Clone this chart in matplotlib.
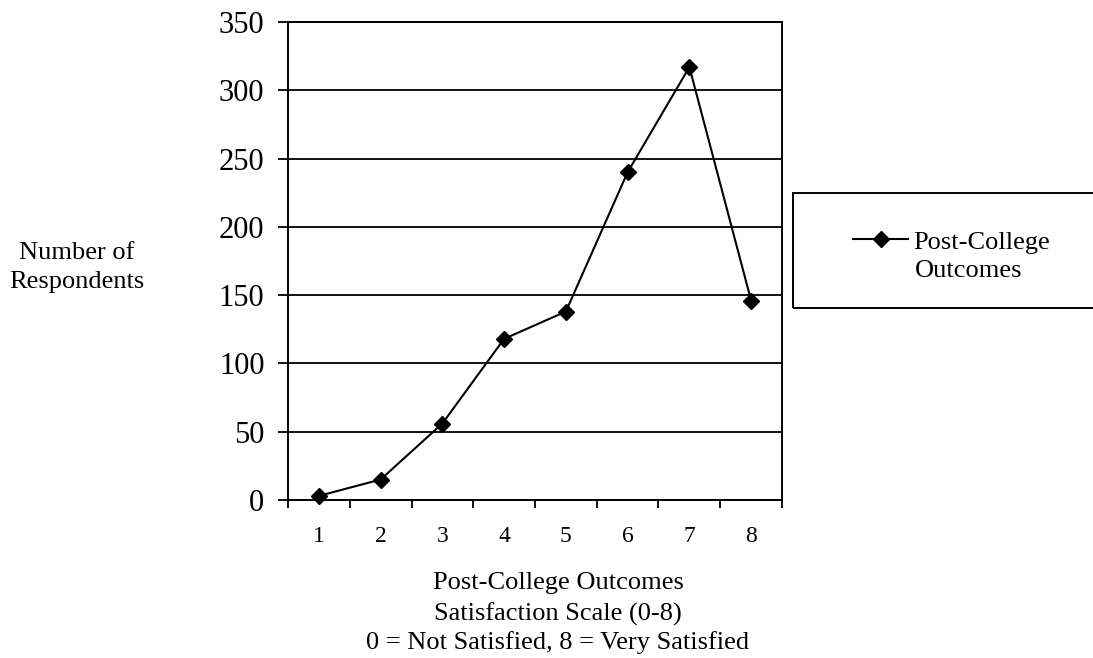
import numpy as np
import matplotlib
matplotlib.use("Agg")
import matplotlib.pyplot as plt
from matplotlib.patches import Rectangle

plt.rcParams['font.family'] = ['Liberation Serif', 'DejaVu Serif']

# scale points and respondent counts
scale = [1, 2, 3, 4, 5, 6, 7, 8]
respondents = [3, 15, 56, 118, 138, 240, 317, 146]
y_ticks = [0, 50, 100, 150, 200, 250, 300, 350]
series_name = "Post-College Outcomes"
x_title = ["Post-College Outcomes", "Satisfaction Scale (0-8)",
           "0 = Not Satisfied, 8 = Very Satisfied"]
y_title = ["Number of", "Respondents"]

W, H = 1093, 658
fig = plt.figure(figsize=(W / 100, H / 100), dpi=100)
ax = fig.add_axes([288 / W, 1 - 500 / H, (782 - 288) / W, (500 - 22) / H])

ax.plot(scale, respondents, color='black', lw=1.5, marker='D', ms=8,
        mfc='black', mec='black', zorder=3, clip_on=False)

ax.set_xlim(0.5, 8.5)
ax.set_ylim(0, 350)
ax.set_yticks(y_ticks)
ax.set_yticklabels([str(v) for v in y_ticks], fontsize=22)
ax.set_xticks(scale)
ax.set_xticklabels([str(v) for v in scale], fontsize=17)
ax.set_xticks(np.arange(0.5, 9, 1), minor=True)
ax.tick_params(axis='x', which='major', length=0, pad=19)
ax.tick_params(axis='x', which='minor', direction='out', length=6, width=1.3)
ax.tick_params(axis='y', direction='out', length=7, width=1.3, pad=10)

# horizontal gridlines
ax.grid(axis='y', color='black', lw=1.3)
ax.set_axisbelow(True)
for s in ax.spines.values():
    s.set_linewidth(1.4)
    s.set_color('black')

for txt, yp in zip(x_title, [583, 614, 643]):
    fig.text(558 / W, 1 - yp / H, txt, ha='center', va='center', fontsize=19)

for txt, yp in zip(y_title, [253, 282]):
    fig.text(77 / W, 1 - yp / H, txt, ha='center', va='center', fontsize=19)

# legend box runs off the right edge of the figure
fig.patches.append(Rectangle((793 / W, 1 - 308 / H), 400 / W, 115 / H,
                             transform=fig.transFigure, fill=False,
                             edgecolor='black', lw=1.4))
first, second = series_name.split(" ")
fig.legend([ax.lines[0]], [first], loc='center left',
           bbox_to_anchor=(853 / W, 1 - 242 / H), frameon=False,
           fontsize=19, handlelength=2.1, handletextpad=0.2,
           borderaxespad=0, borderpad=0)
fig.text(915 / W, 1 - 271 / H, second, ha='left', va='center', fontsize=19)

fig.savefig("out.png", dpi=100, facecolor='white')
